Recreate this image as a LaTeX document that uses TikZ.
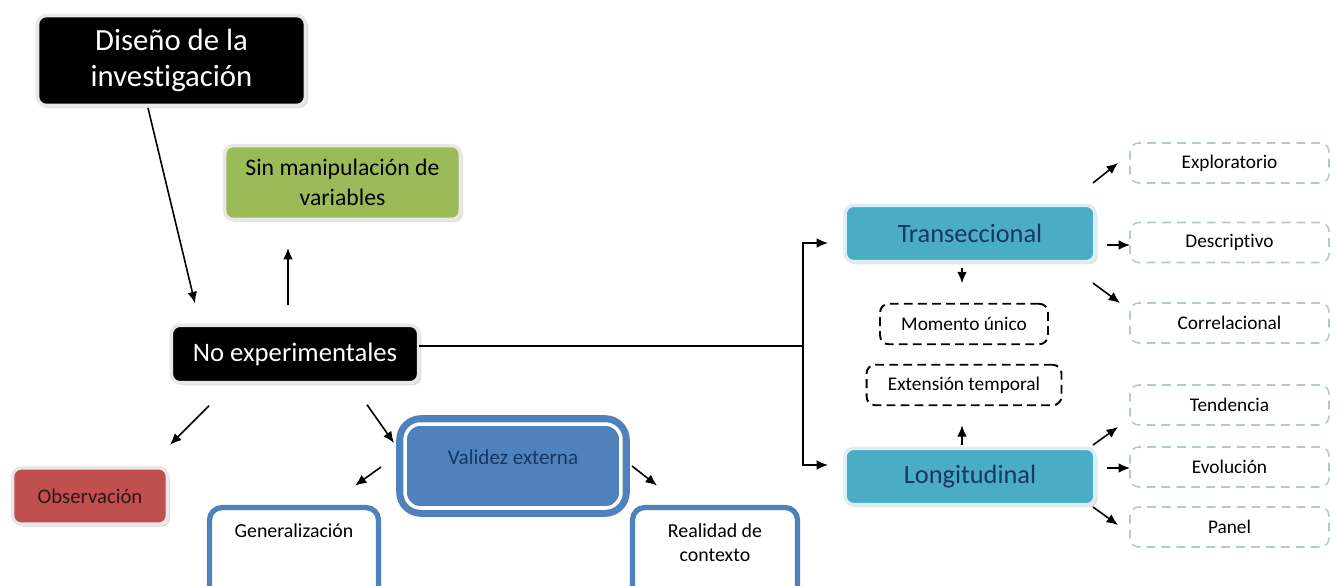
\documentclass[tikz,border=0pt]{standalone}
\usepackage{fontspec}
\setmainfont{Carlito}[Ligatures=CommonOff]
\usepackage{tikz}
\usetikzlibrary{arrows,arrows.meta,calc,positioning,shadows}
\definecolor{verde}{HTML}{9BBB59}
\definecolor{rojo}{HTML}{C0504D}
\definecolor{azul}{HTML}{4F81BD}
\definecolor{cian}{HTML}{4BACC6}
\definecolor{marino}{HTML}{17375E}
\definecolor{gris}{HTML}{B4C9CF}

\begin{document}
\begin{tikzpicture}[x=0.02cm,y=-0.02cm,line width=0.9pt,>={Latex[length=6.5pt,width=5.5pt]}]
    \tikzstyle{every node}=[inner sep=0pt, outer sep=0pt, align=center]
    \tikzstyle{caja}=[rectangle, rounded corners=5pt, line width=2pt, draw=gray!18,
        drop shadow={opacity=0.25, shadow xshift=1.5pt, shadow yshift=-1.5pt}]
    \tikzstyle{negro}=[caja, fill=black, text=white]
    \tikzstyle{tipo}=[caja, fill=cian, draw=cian!20, text=marino, font=\fontsize{15}{18}\selectfont,
        minimum width=5cm, minimum height=1.13cm]
    \tikzstyle{borde}=[rectangle, rounded corners=7pt, fill=white, draw=azul, line width=3pt,
        font=\fontsize{11.3}{14}\selectfont]
    \tikzstyle{punteado}=[rectangle, rounded corners=5pt, draw, dash pattern=on 5pt off 3pt,
        line width=1.1pt, font=\fontsize{11}{13}\selectfont, minimum height=0.81cm]
    \tikzstyle{clase}=[rectangle, rounded corners=5pt, draw=gris, dash pattern=on 5pt off 3.5pt,
        line width=0.9pt, font=\fontsize{11}{13}\selectfont, minimum width=3.98cm, minimum height=0.8cm]

    \useasboundingbox (0,0) rectangle (1341,585);
    \clip (0,0) rectangle (1341,585);

    \node[negro, font=\fontsize{17.5}{20}\selectfont, minimum width=5.36cm, minimum height=1.8cm]
        (dis) at (171.5,60.5) {Diseño de la\\investigación};
    \node[caja, fill=verde, font=\fontsize{13.5}{17}\selectfont, minimum width=4.72cm, minimum height=1.48cm]
        (sin) at (342.5,182.5) {Sin manipulación de\\variables};
    \node[negro, font=\fontsize{15.2}{18}\selectfont, minimum width=4.95cm, minimum height=1.15cm]
        (nox) at (295,354) {No experimentales};
    \node[caja, fill=rojo, text=rojo!25!black, font=\fontsize{11.8}{14}\selectfont, minimum width=3.1cm, minimum height=1.13cm]
        (obs) at (90,496) {Observación};
    \node[rectangle, rounded corners=9pt, fill=azul, draw=azul, double=white, double distance=2pt, line width=4pt,
        text=marino, font=\fontsize{12}{14}\selectfont, minimum width=4.32cm, minimum height=1.68cm, text depth=0.35cm]
        (val) at (513,466) {Validez externa};
    \node[borde, anchor=north, minimum width=3.38cm, text height=0.3cm, text depth=1.3cm, inner ysep=0.29cm]
        (gen) at (294,507.6) {Generalización};
    \node[borde, minimum width=3.3cm, minimum height=1.9cm]
        (rea) at (715,555) {Realidad de\\contexto\\ };

    \node[tipo] (tra) at (970,233.5) {Transeccional};
    \node[tipo] (lon) at (970,476.5) {Longitudinal};
    \node[punteado, minimum width=3.36cm] (mom) at (964,324) {Momento único};
    \node[punteado, minimum width=3.9cm] (ext) at (964,385) {Extensión temporal};

    \node[clase] (exp) at (1229.5,163) {Exploratorio};
    \node[clase] (des) at (1229.5,242.5) {Descriptivo};
    \node[clase] (cor) at (1229.5,323) {Correlacional};
    \node[clase] (ten) at (1229.5,405) {Tendencia};
    \node[clase] (evo) at (1229.5,467) {Evolución};
    \node[clase] (pan) at (1229.5,527) {Panel};

    \draw[->] ($(dis.south)+(-23.5,2.5)$) -- ($(nox.north)+(-100,-22)$);
    \draw[->] ($(nox.north)+(-7,-20)$) -- ($(sin.south)+(-54.5,28.5)$);
    \draw[->] ($(nox.south)+(-86,23)$) -- ($(obs.north)+(80,-23)$);
    \draw[->] ($(nox.south)+(72,22)$) -- ($(val.north west)+(-11,19)$);
    \draw[->] ($(val.west)+(-24,1)$) -- ($(gen.north)+(61,-22)$);
    \draw[->] ($(val.east)+(11,0)$) -- ($(rea.north)+(-58,-22)$);

    \coordinate (hub) at ($(nox.east)+(384,-8)$);
    \draw ($(nox.east)+(0,-8)$) -- (hub);
    \draw[->] (hub) |- ($(tra.west)+(-17,9.5)$);
    \draw[->] (hub) |- ($(lon.west)+(-17,-11.5)$);

    \draw[->] ($(tra.south)+(-8,6)$) -- ($(mom.north)+(-2,-20.5)$);
    \draw[->] ($(lon.north)+(-8,-3)$) -- ($(ext.south)+(-2,20)$);

    \draw[->] ($(tra.east)+(-2,-50.5)$) -- ($(exp.west)+(-12,0)$);
    \draw[->] ($(tra.east)+(12,11.5)$) -- ($(des.west)+(0,2.5)$);
    \draw[->] ($(tra.east)+(-2,49.5)$) -- ($(cor.west)+(-10,-20)$);
    \draw[->] ($(lon.east)+(-2,-31.5)$) -- ($(ten.west)+(-12,22)$);
    \draw[->] ($(lon.east)+(12,-8.5)$) -- ($(evo.west)+(0,1)$);
    \draw[->] ($(lon.east)+(-2,30.5)$) -- ($(pan.west)+(-12,-2)$);
\end{tikzpicture}
\end{document}
